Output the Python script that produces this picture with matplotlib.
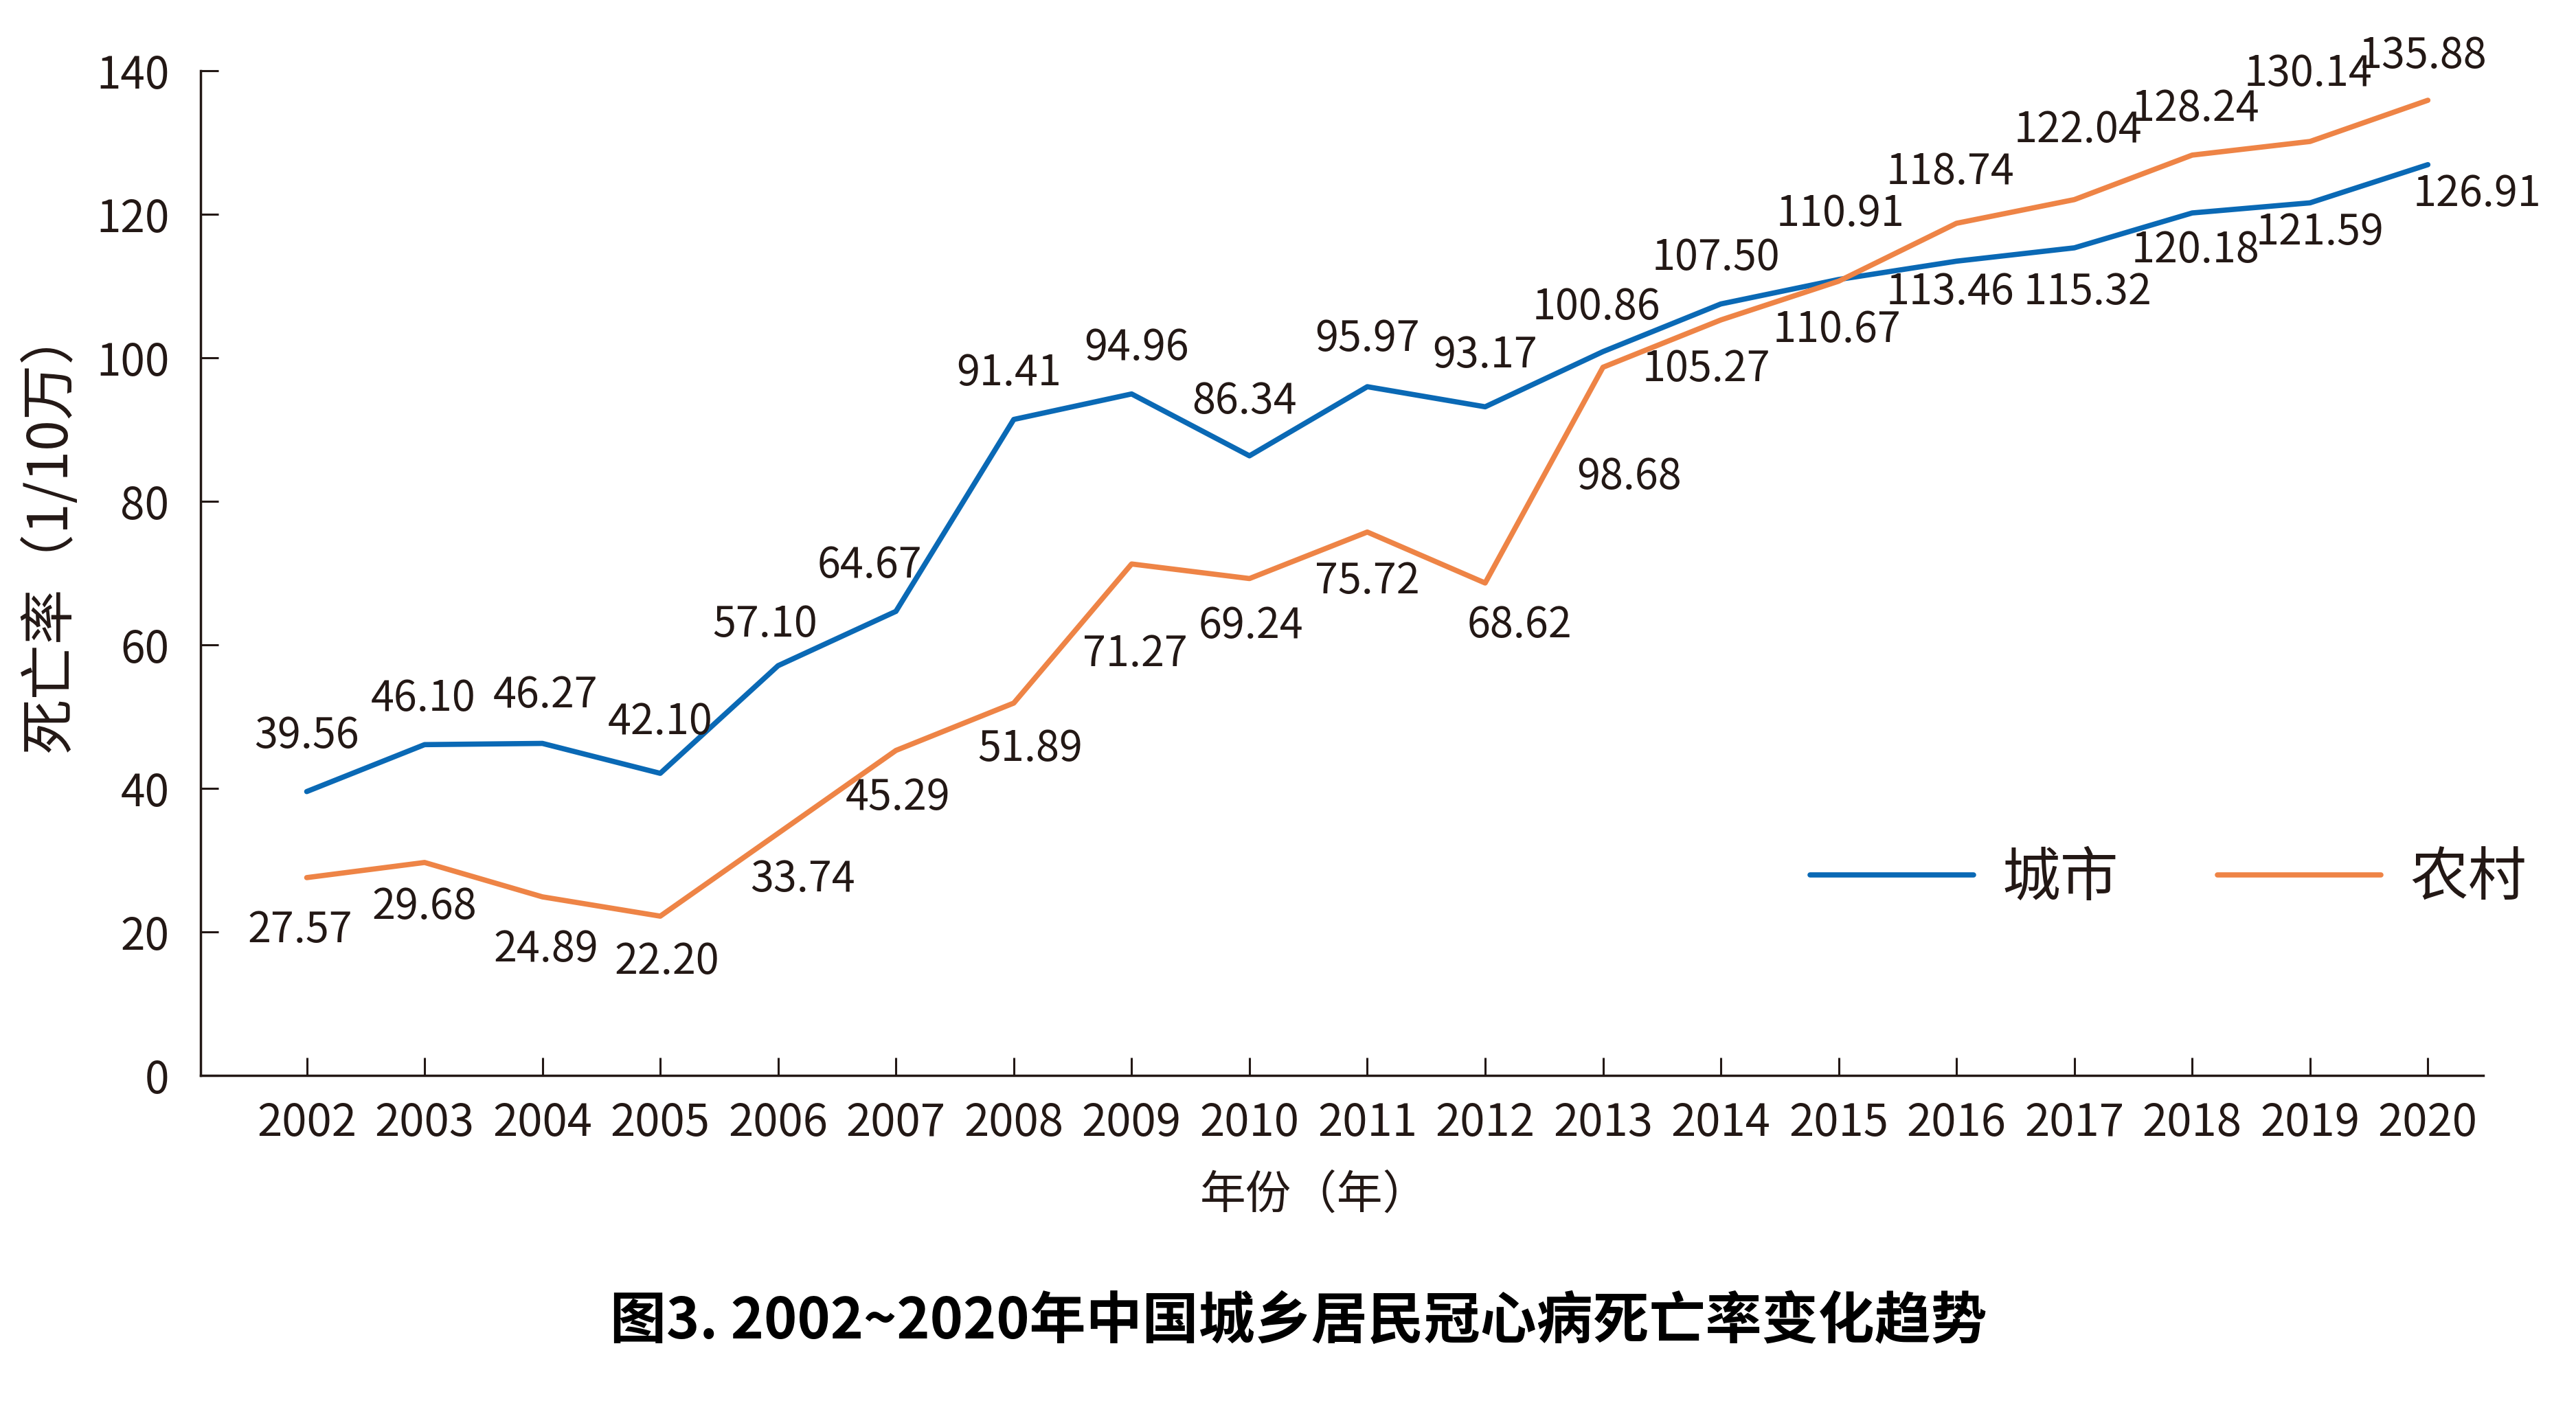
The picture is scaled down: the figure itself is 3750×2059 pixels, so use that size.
import matplotlib
matplotlib.use('Agg')
import matplotlib.pyplot as plt

plt.rcParams['font.family'] = ['Noto Sans CJK SC', 'DejaVu Sans']

# data
years = ['2002', '2003', '2004', '2005', '2006', '2007', '2008', '2009', '2010', '2011',
         '2012', '2013', '2014', '2015', '2016', '2017', '2018', '2019', '2020']
city = [39.56, 46.10, 46.27, 42.10, 57.10, 64.67, 91.41, 94.96, 86.34, 95.97,
        93.17, 100.86, 107.50, 110.91, 113.46, 115.32, 120.18, 121.59, 126.91]
rural = [27.57, 29.68, 24.89, 22.20, 33.74, 45.29, 51.89, 71.27, 69.24, 75.72,
         68.62, 98.68, 105.27, 110.67, 118.74, 122.04, 128.24, 130.14, 135.88]
series_names = ['城市', '农村']

# label offsets (pixels on the shrunk preview, converted below)
city_off = [(0, 34), (-1, 28), (2, 29), (0, 31), (-8, 25), (-16, 28), (-3, 28), (3, 28),
            (-3, 33), (0, 29), (0, 31), (-4, 27), (-3, 28), (1, 40), (-4, -19), (8, -27),
            (2, -23), (6, -18), (30, -18)]
rural_off = [(-4, -32), (0, -27), (2, -32), (4, -28), (15, -28), (1, -29), (10, -28),
             (2, -55), (1, -29), (0, -30), (21, -26), (16, -67), (-9, -30), (-1, -30),
             (-4, 31), (2, 42), (2, 28), (-1, 41), (-3, 27)]
k = 3750 / 1568

ink = '#231815'
blue = '#0a69b5'
orange = '#ee8446'

fig = plt.figure(figsize=(37.5, 20.59), dpi=100)
ax = fig.add_axes([0.0779, 0.2394, 0.8861, 0.7106])

x = range(len(years))
ax.plot(x, city, color=blue, lw=5.5, label=series_names[0], solid_capstyle='round')
ax.plot(x, rural, color=orange, lw=5.5, label=series_names[1], solid_capstyle='round')

for i in x:
    ax.annotate(f'{city[i]:.2f}', (i, city[i]), xytext=(city_off[i][0] * k, city_off[i][1] * k),
                textcoords='offset pixels', ha='center', va='center', fontsize=44, color=ink)
    ax.annotate(f'{rural[i]:.2f}', (i, rural[i]), xytext=(rural_off[i][0] * k, rural_off[i][1] * k),
                textcoords='offset pixels', ha='center', va='center', fontsize=44, color=ink)

ax.set_xlim(-0.9, 18.47)
ax.set_ylim(0, 140)
ax.set_yticks(range(0, 141, 20))
ax.set_xticks(list(x))
ax.set_xticklabels(years)

for s in ['top', 'right']:
    ax.spines[s].set_visible(False)
for s in ['left', 'bottom']:
    ax.spines[s].set_color(ink)
    ax.spines[s].set_linewidth(2.5)

ax.tick_params(axis='y', direction='in', length=19, width=2.2, color=ink,
               labelsize=46, labelcolor=ink, pad=33)
ax.tick_params(axis='x', direction='in', length=19, width=2.2, color=ink,
               labelsize=47, labelcolor=ink, pad=26)

ax.set_ylabel('死亡率（1/10万）', fontsize=58, color=ink, fontweight='medium')
ax.yaxis.set_label_coords(-0.0535, 0.543)
ax.set_xlabel('年份（年）', fontsize=48, color=ink)
ax.xaxis.label.set_va('center')
ax.xaxis.set_label_coords(0.488, -0.1196)

ax.legend(loc='center', bbox_to_anchor=(0.862, 0.196), ncol=2, frameon=False,
          fontsize=61, handlelength=2.8, handletextpad=0.5, columnspacing=1.7,
          labelcolor=ink)

fig.text(0.504, 0.065, '图3. 2002~2020年中国城乡居民冠心病死亡率变化趋势',
         ha='center', va='center', fontsize=59, fontweight='bold', color='black')

fig.savefig('out.png', dpi=100, facecolor='white')
